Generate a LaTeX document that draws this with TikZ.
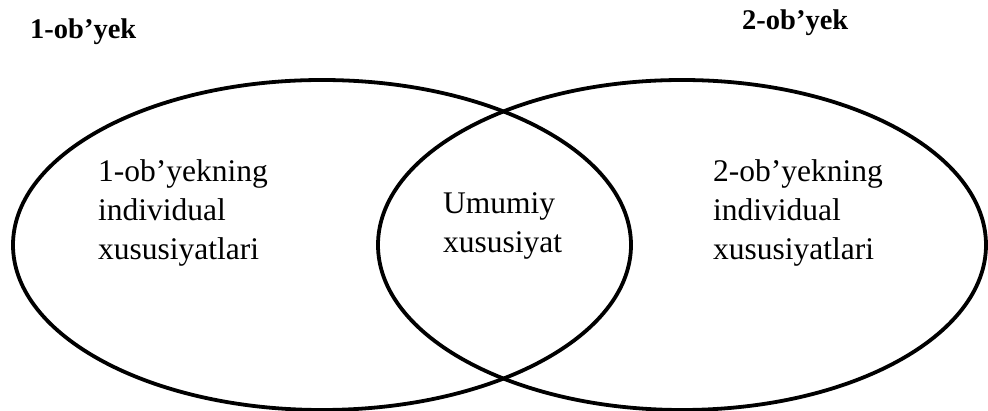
\documentclass[tikz,border=0pt]{standalone}
\usepackage{fontspec}
\setmainfont{Liberation Serif}
\begin{document}
\begin{tikzpicture}[x=1pt,y=-1pt,
  ring/.style={draw=black,line width=3.8pt},
  title/.style={font=\fontsize{28.5}{34}\selectfont\bfseries,inner sep=0pt,anchor=base west},
  body/.style={font=\fontsize{31.5}{39}\selectfont,inner sep=0pt,anchor=base west,align=left}]
\useasboundingbox (0,0) rectangle (988,411);
\clip (0,0) rectangle (988,411);
\draw[ring] (322,245) ellipse [x radius=309, y radius=165];
\draw[ring] (682,245) ellipse [x radius=304, y radius=165];
\node[title] (t1) at (30,39) {1-ob’yek};
\node[title] (t2) at (742,30) {2-ob’yek};
\node[body] (b1) at (98,260) {1-ob’yekning\\individual\\xususiyatlari};
\node[body] (b2) at (713,260) {2-ob’yekning\\individual\\xususiyatlari};
\node[body] (c) at (443,253) {Umumiy\\xususiyat};
\end{tikzpicture}
\end{document}
